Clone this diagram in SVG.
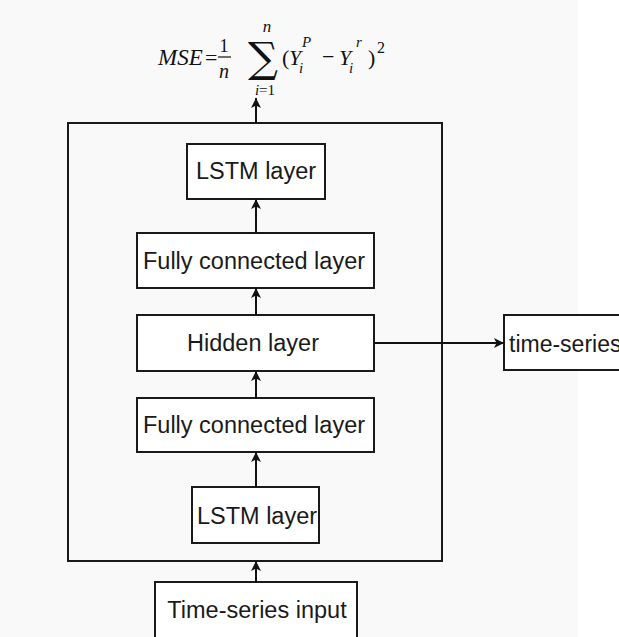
<svg xmlns="http://www.w3.org/2000/svg" width="619" height="637" viewBox="0 0 619 637">
<style>
.box{fill:#ffffff;stroke:#1a1a1a;stroke-width:2}
.lbl{font-family:"Liberation Sans",Arial,sans-serif;font-size:23.5px;fill:#1a1a1a;text-anchor:middle}
.conn{stroke:#111;stroke-width:2;fill:none}
.m{font-family:"Liberation Serif","DejaVu Serif",serif;fill:#111}
.mi{font-style:italic}
</style>
<defs>
<marker id="ah" viewBox="0 0 10 11" refX="10" refY="5.5" markerWidth="10" markerHeight="11" markerUnits="userSpaceOnUse" orient="auto">
<path d="M0,0.5 L10,5.5 L0,10.5 L2.5,5.5 Z" fill="#111"/>
</marker>
</defs>
<rect x="0" y="0" width="578" height="637" fill="#f9f9f9"/>
<rect x="578" y="0" width="41" height="637" fill="#ffffff"/>

<g id="formula">
<text class="m mi" x="158" y="65" font-size="23">MSE</text>
<text class="m" x="205" y="65" font-size="22">=</text>
<text class="m" x="224" y="52" font-size="18" text-anchor="middle">1</text>
<line x1="218" y1="57" x2="231" y2="57" stroke="#111" stroke-width="1.2"/>
<text class="m mi" x="224" y="78" font-size="20" text-anchor="middle">n</text>
<text x="263" y="72" font-family="'DejaVu Serif',serif" font-size="42" text-anchor="middle" fill="#111">∑</text>
<text class="m mi" x="267" y="32" font-size="17" text-anchor="middle">n</text>
<text class="m" x="265" y="95" font-size="15" text-anchor="middle"><tspan font-style="italic">i</tspan>=1</text>
<text class="m" font-size="22"><tspan x="282" y="65">(</tspan><tspan x="289" y="65" font-style="italic">Y</tspan><tspan x="299" y="73" font-size="15" font-style="italic">i</tspan><tspan x="302" y="47" font-size="15" font-style="italic">P</tspan><tspan x="322" y="64">−</tspan><tspan x="339" y="65" font-style="italic">Y</tspan><tspan x="349" y="73" font-size="15" font-style="italic">i</tspan><tspan x="356" y="47" font-size="15" font-style="italic">r</tspan><tspan x="368" y="65">)</tspan><tspan x="377" y="53" font-size="16">2</tspan></text>
</g>

<g id="frame">
<rect x="68" y="123" width="374" height="438" fill="none" stroke="#1a1a1a" stroke-width="2"/>
</g>

<g id="lstm-top">
<rect class="box" x="187" y="144" width="138" height="55"/>
<text class="lbl" x="256" y="179">LSTM layer</text>
</g>
<g id="fc-top">
<rect class="box" x="137" y="233" width="237" height="55"/>
<text class="lbl" x="254" y="269">Fully connected layer</text>
</g>
<g id="hidden">
<rect class="box" x="137" y="315" width="237" height="56"/>
<text class="lbl" x="253" y="351">Hidden layer</text>
</g>
<g id="fc-bottom">
<rect class="box" x="137" y="398" width="237" height="54"/>
<text class="lbl" x="254" y="433">Fully connected layer</text>
</g>
<g id="lstm-bottom">
<rect class="box" x="192" y="487" width="127" height="56"/>
<text class="lbl" x="257" y="524">LSTM layer</text>
</g>
<g id="input">
<rect class="box" x="155" y="582" width="202" height="60"/>
<text class="lbl" x="257" y="618">Time-series input</text>
</g>
<g id="output">
<rect class="box" x="504" y="315" width="130" height="55"/>
<text x="509" y="352" font-family="'Liberation Sans',Arial,sans-serif" font-size="23" fill="#1a1a1a">time-series</text>
</g>

<g id="connectors">
<line class="conn" x1="256" y1="123" x2="256" y2="98" marker-end="url(#ah)"/>
<line class="conn" x1="256" y1="233" x2="256" y2="199" marker-end="url(#ah)"/>
<line class="conn" x1="256" y1="315" x2="256" y2="288" marker-end="url(#ah)"/>
<line class="conn" x1="256" y1="398" x2="256" y2="371" marker-end="url(#ah)"/>
<line class="conn" x1="256" y1="487" x2="256" y2="452" marker-end="url(#ah)"/>
<line class="conn" x1="256" y1="582" x2="256" y2="561" marker-end="url(#ah)"/>
<line class="conn" x1="374" y1="343" x2="504" y2="343" marker-end="url(#ah)"/>
</g>
</svg>
